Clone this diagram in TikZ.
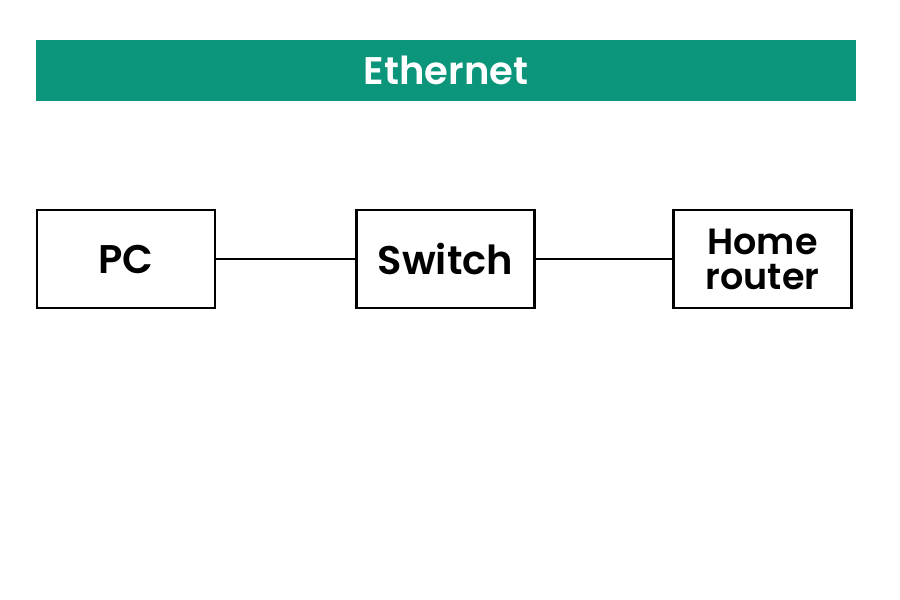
\documentclass[tikz,border=0pt]{standalone}
\usepackage{fontspec}
\setmainfont{Poppins}[BoldFont={Poppins SemiBold}]
\usetikzlibrary{positioning}
\definecolor{ethgreen}{HTML}{0B957A}

\begin{document}
\begin{tikzpicture}[x=1pt,y=-1pt,
		device/.style={draw=black, line width=2.8pt, fill=white, minimum width=178pt, minimum height=98pt, inner sep=0pt, align=center, font=\bfseries\fontsize{40}{40}\selectfont},
		cable/.style={line width=1.8pt}]
		\useasboundingbox (0,0) rectangle (900,600);

		% title bar
		\node[fill=ethgreen, minimum width=820pt, minimum height=61pt, inner sep=0pt, text=white, font=\bfseries\fontsize{38.5}{38.5}\selectfont] (title) at (446,70.5) {Ethernet};

		\node[device] (pc) at (126,259) {PC};
		\node[device] (switch) at (445.5,259) {Switch};
		\node[device, font=\bfseries\fontsize{36.5}{35}\selectfont] (router) at (762.5,259) {Home\\router};

		\draw[cable] (pc) -- (switch);
		\draw[cable] (switch) -- (router);
	\end{tikzpicture}
\end{document}
